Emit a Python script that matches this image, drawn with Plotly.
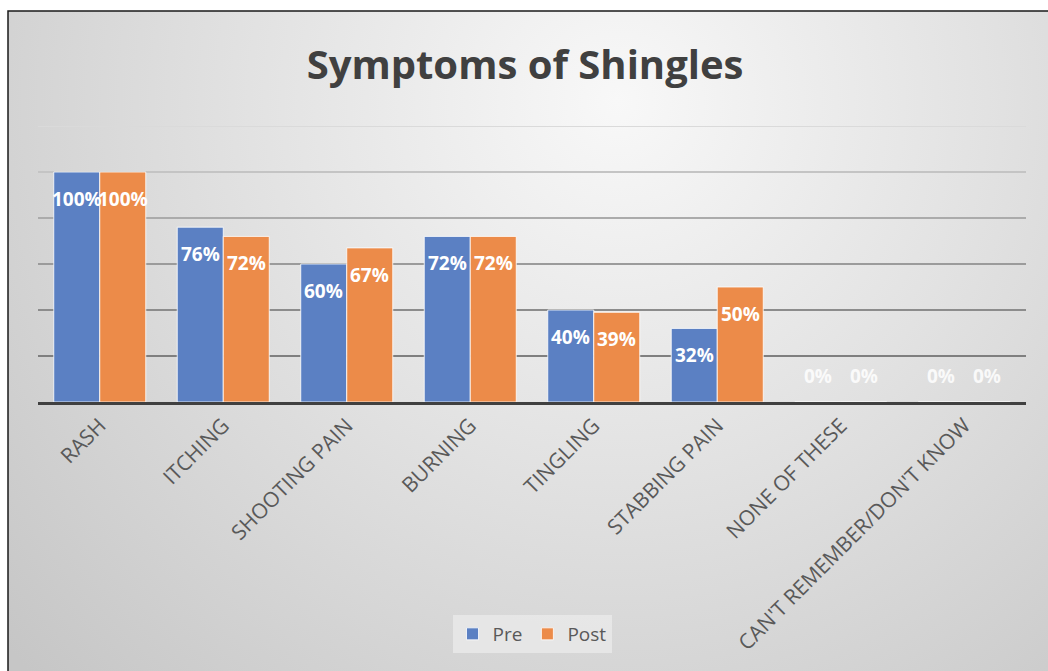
import base64
import plotly.graph_objects as go

# Chart data
categories = ['RASH', 'ITCHING', 'SHOOTING PAIN', 'BURNING', 'TINGLING',
              'STABBING PAIN', 'NONE OF THESE', "CAN'T REMEMBER/DON'T KNOW"]
pre_values = [1.00, 0.76, 0.60, 0.72, 0.40, 0.32, 0.00, 0.00]
post_values = [1.00, 0.72, 0.67, 0.72, 0.39, 0.50, 0.00, 0.00]
grid_values = [0.2, 0.4, 0.6, 0.8, 1.0, 1.2]
grid_colors = ['#7f7f7f', '#8c8c8c', '#9b9b9b', '#ababab', '#c4c4c4', '#dadada']

W, H = 1048, 671
L, R, T, B = 38, 1026, 126, 402  # plot area in pixels

BLUE = '#5b80c3'
ORANGE = '#ec8b49'
FONT = 'Open Sans, sans-serif'


def px_x(px):
    return (px - L) / (R - L)


def px_y(py):
    return (B - py) / (B - T)


def gradient_source():
    """Radial grey gradient like the Excel chart area"""
    svg = (
        '<svg xmlns="http://www.w3.org/2000/svg" width="1042" height="662">'
        '<defs><radialGradient id="g" gradientUnits="userSpaceOnUse" '
        'cx="610" cy="90" r="820">'
        '<stop offset="0" stop-color="#f8f8f8"/>'
        '<stop offset="0.45" stop-color="#e2e2e2"/>'
        '<stop offset="1" stop-color="#c6c6c6"/>'
        '</radialGradient></defs>'
        '<rect width="1042" height="662" fill="url(#g)"/></svg>'
    )
    return 'data:image/svg+xml;base64,' + base64.b64encode(svg.encode()).decode()


fig = go.Figure()

for name, vals, color in [('Pre', pre_values, BLUE), ('Post', post_values, ORANGE)]:
    fig.add_trace(go.Bar(
        x=categories,
        y=vals,
        name=name,
        marker=dict(color=color, line=dict(color='rgba(255,255,255,0.8)', width=1)),
    ))

# Data labels (inside end, white bold)
bar_px = (R - L) / len(categories) * (1 - 0.255) / 2
annotations = []
for vals, shift in [(pre_values, -bar_px / 2), (post_values, bar_px / 2)]:
    for cat, v in zip(categories, vals):
        annotations.append(dict(
            x=cat, y=v, xref='x', yref='y',
            text=f'{v * 100:.0f}%',
            showarrow=False,
            xshift=shift,
            yshift=-27 if v > 0 else 26,
            yanchor='middle',
            font=dict(family=FONT, size=19,
                      color='white' if v > 0 else 'rgba(255,255,255,0.85)',
                      weight='bold'),
        ))

# Gridlines with graded shade
shapes = []
for g, c in zip(grid_values, grid_colors):
    shapes.append(dict(type='line', xref='paper', yref='y', x0=0, x1=1, y0=g, y1=g,
                       line=dict(color=c, width=2), layer='below'))

# Chart border
shapes.append(dict(type='rect', xref='paper', yref='paper',
                   x0=px_x(8), x1=px_x(1060), y0=px_y(690), y1=px_y(11),
                   line=dict(color='#1a1a1a', width=1.5), fillcolor='rgba(0,0,0,0)'))

fig.update_layout(
    width=W,
    height=H,
    margin=dict(l=L, r=W - R, t=T, b=H - B),
    paper_bgcolor='white',
    plot_bgcolor='rgba(0,0,0,0)',
    barmode='group',
    bargap=0.255,
    bargroupgap=0,
    title=dict(
        text='Symptoms of Shingles',
        x=px_x(533), xanchor='center',
        y=1 - 65 / H, yanchor='middle',
        font=dict(family=FONT, size=40, color='#404040', weight='bold'),
    ),
    xaxis=dict(
        tickangle=-45,
        tickfont=dict(family=FONT, size=21, color='#595959'),
        showline=True, linecolor='#404040', linewidth=3,
        showgrid=False, ticks='',
    ),
    yaxis=dict(
        range=[0, 1.2],
        showgrid=False, zeroline=False,
        showticklabels=False, showline=False,
    ),
    legend=dict(
        orientation='h',
        x=0.5, xanchor='center',
        y=px_y(634), yanchor='middle',
        bgcolor='rgba(232,232,232,0.9)',
        font=dict(family=FONT, size=19, color='#595959'),
        itemwidth=30,
    ),
    images=[dict(
        source=gradient_source(),
        xref='paper', yref='paper',
        x=px_x(8), y=px_y(11),
        sizex=px_x(1050) - px_x(8), sizey=px_y(11) - px_y(673),
        xanchor='left', yanchor='top',
        sizing='stretch', layer='below',
    )],
    shapes=shapes,
    annotations=annotations,
)

# drop the default page margin so the figure sits at the window corner
fig.write_html('out.html',
               config={'displayModeBar': False},
               post_script="document.body.style.margin='0';document.body.style.overflow='hidden';")
